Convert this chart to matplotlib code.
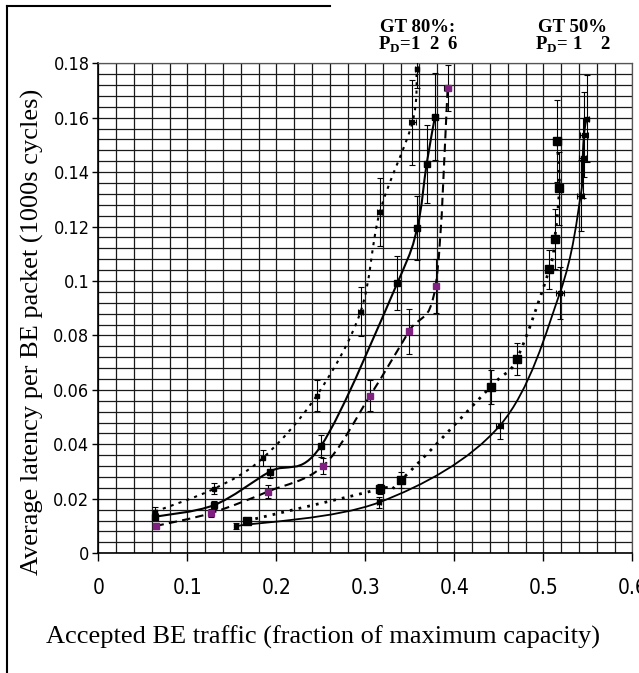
import numpy as np
import matplotlib
matplotlib.use("Agg")
import matplotlib.pyplot as plt
from matplotlib.path import Path
from matplotlib.patches import PathPatch
from matplotlib.lines import Line2D
from matplotlib.ticker import MultipleLocator, FuncFormatter

plt.rcParams['mathtext.fontset'] = 'custom'
plt.rcParams['mathtext.rm'] = 'Liberation Serif'
plt.rcParams['mathtext.bf'] = 'Liberation Serif:bold'

# GT 80%, P_D = 1 (dotted)
gt80_p1_x = [0.0635, 0.130, 0.1845, 0.2452, 0.2946, 0.3160, 0.3528, 0.3575]
gt80_p1_y = [0.0153, 0.0237, 0.0349, 0.0579, 0.0888, 0.1252, 0.1584, 0.1780]
gt80_p1_yerr = [0.0015, 0.0020, 0.0030, 0.0057, 0.0090, 0.0125, 0.0156, 0.0070]
gt80_p1_xerr = [0, 0, 0, 0, 0.003, 0.003, 0.004, 0.002]

# GT 80%, P_D = 2 (solid)
gt80_p2_x = [0.0635, 0.130, 0.1927, 0.2500, 0.3357, 0.3582, 0.3687, 0.3781]
gt80_p2_y = [0.0134, 0.0177, 0.0300, 0.0394, 0.0992, 0.1196, 0.1430, 0.1604]
gt80_p2_yerr = [0.0012, 0.0015, 0.0022, 0.0040, 0.0100, 0.0118, 0.0142, 0.0160]
gt80_p2_xerr = [0, 0, 0, 0, 0.002, 0.002, 0.003, 0.003]

# GT 80%, P_D = 6 (dashed, purple)
gt80_p6_x = [0.0642, 0.1260, 0.1900, 0.2526, 0.3050, 0.3490, 0.3788, 0.3923]
gt80_p6_y = [0.0100, 0.0147, 0.0226, 0.0321, 0.0578, 0.0816, 0.0982, 0.1708]
gt80_p6_yerr = [0.0010, 0.0015, 0.0025, 0.0030, 0.0057, 0.0083, 0.0100, 0.0085]
gt80_p6_xerr = [0, 0, 0, 0, 0, 0.002, 0.002, 0.004]

# GT 50%, P_D = 1 (dotted)
gt50_p1_x = [0.1665, 0.3160, 0.3400, 0.4407, 0.4700, 0.5066, 0.5125, 0.5178, 0.5155]
gt50_p1_y = [0.0119, 0.0236, 0.0269, 0.0612, 0.0714, 0.1043, 0.1153, 0.1340, 0.1514]
gt50_p1_yerr = [0.0010, 0.0020, 0.0028, 0.0062, 0.0060, 0.0072, 0.0110, 0.0135, 0.0150]
gt50_p1_xerr = [0, 0, 0, 0.003, 0.004, 0.003, 0.003, 0.003, 0.004]

# GT 50%, P_D = 2 (solid)
gt50_p2_x = [0.1550, 0.3155, 0.4510, 0.5185, 0.5418, 0.5440, 0.5455, 0.5485]
gt50_p2_y = [0.0100, 0.0187, 0.0469, 0.0957, 0.1314, 0.1453, 0.1538, 0.1597]
gt50_p2_yerr = [0.0010, 0.0020, 0.0048, 0.0095, 0.0130, 0.0147, 0.0155, 0.0160]
gt50_p2_xerr = [0, 0.002, 0.004, 0.004, 0.004, 0.004, 0.004, 0.003]


def smooth_line(ax, x, y, **kw):
    # excel style smoothed line (bezier through the points)
    p = np.column_stack([x, y])
    n = len(p)
    verts = [p[0]]
    codes = [Path.MOVETO]
    for i in range(n - 1):
        prev = p[i - 1] if i > 0 else p[i]
        nxt = p[i + 2] if i + 2 < n else p[i + 1]
        c1 = p[i] + (p[i + 1] - prev) / 6.0
        c2 = p[i + 1] - (nxt - p[i]) / 6.0
        verts += [c1, c2, p[i + 1]]
        codes += [Path.CURVE4] * 3
    ax.add_patch(PathPatch(Path(verts, codes), fill=False, **kw))


fig = plt.figure(figsize=(6.39, 6.73), dpi=100)
ax = fig.add_axes([0.1541, 0.178, 0.8357, 0.728])

ax.set_xlim(0, 0.6)
ax.set_ylim(0, 0.18)
ax.xaxis.set_major_locator(MultipleLocator(0.1))
ax.xaxis.set_minor_locator(MultipleLocator(0.02))
ax.yaxis.set_major_locator(MultipleLocator(0.02))
ax.yaxis.set_minor_locator(MultipleLocator(0.004))
ax.grid(True, which='both', color='#1a1a1a', lw=0.9)
ax.set_axisbelow(True)
fmt = FuncFormatter(lambda v, pos: '%g' % round(v, 3))
ax.xaxis.set_major_formatter(fmt)
ax.yaxis.set_major_formatter(fmt)
ax.tick_params(which='minor', length=0)
ax.tick_params(axis='y', which='major', length=4, width=1, pad=2.5)
ax.tick_params(axis='x', which='major', length=6, width=1, pad=12)
for s in ['top', 'right']:
    ax.spines[s].set_color('#555555')
    ax.spines[s].set_linewidth(0.9)
for s in ['left', 'bottom']:
    ax.spines[s].set_linewidth(1.2)

narrow = ['DejaVu Sans Condensed', 'DejaVu Sans']
for lab in ax.get_yticklabels():
    lab.set_family(narrow)
    lab.set_stretch('condensed')
    lab.set_fontsize(13)
for lab in ax.get_xticklabels():
    lab.set_family(narrow)
    lab.set_stretch('condensed')
    lab.set_fontsize(15)

eb = dict(fmt='none', ecolor='black', elinewidth=0.8, capsize=2, capthick=0.8, zorder=3)

# GT 80%
smooth_line(ax, gt80_p1_x, gt80_p1_y, color='black', lw=1.5, linestyle=(0, (1.5, 2.5)), zorder=4)
ax.errorbar(gt80_p1_x, gt80_p1_y, yerr=gt80_p1_yerr, xerr=gt80_p1_xerr, **eb)
ax.plot(gt80_p1_x, gt80_p1_y, 's', color='black', ms=3.5, ls='none', zorder=5)

smooth_line(ax, gt80_p2_x, gt80_p2_y, color='black', lw=1.5, zorder=4)
ax.errorbar(gt80_p2_x, gt80_p2_y, yerr=gt80_p2_yerr, xerr=gt80_p2_xerr, **eb)
ax.plot(gt80_p2_x, gt80_p2_y, 's', color='black', ms=4, ls='none', zorder=5)

smooth_line(ax, gt80_p6_x, gt80_p6_y, color='black', lw=1.5, linestyle=(0, (4, 2.5)), zorder=4)
ax.errorbar(gt80_p6_x, gt80_p6_y, yerr=gt80_p6_yerr, xerr=gt80_p6_xerr, **eb)
ax.plot(gt80_p6_x, gt80_p6_y, 's', color='#7f1f80', ms=4, ls='none', zorder=5)

# GT 50%
smooth_line(ax, gt50_p1_x, gt50_p1_y, color='black', lw=2, linestyle=(0, (1, 2.2)), zorder=4)
ax.errorbar(gt50_p1_x, gt50_p1_y, yerr=gt50_p1_yerr, xerr=gt50_p1_xerr, **eb)
ax.plot(gt50_p1_x, gt50_p1_y, 's', color='black', ms=5.5, ls='none', zorder=5)

smooth_line(ax, gt50_p2_x, gt50_p2_y, color='black', lw=1.3, zorder=4)
ax.errorbar(gt50_p2_x, gt50_p2_y, yerr=gt50_p2_yerr, xerr=gt50_p2_xerr, **eb)
ax.plot(gt50_p2_x, gt50_p2_y, 's', color='black', ms=3, ls='none', zorder=5)

serif = 'Liberation Serif'
fig.text(32 / 639, 0.507, 'Average latency per BE packet (1000s cycles)', rotation=90,
         ha='center', va='center', family=serif, fontsize=19)
fig.text(0.5047, 1 - 637 / 673, 'Accepted BE traffic (fraction of maximum capacity)',
         ha='center', va='center', family=serif, fontsize=19)

fig.text(380 / 639, 1 - 32 / 673, 'GT 80%:', ha='left', va='baseline', family=serif,
         fontsize=13.5, fontweight='bold')
fig.text(378 / 639, 1 - 50 / 673, r'P$_\mathbf{D}$=1  2  6', ha='left', va='baseline',
         family=serif, fontsize=13.5, fontweight='bold')
fig.text(538 / 639, 1 - 32 / 673, 'GT 50%', ha='left', va='baseline', family=serif,
         fontsize=13.5, fontweight='bold')
fig.text(535 / 639, 1 - 50 / 673, r'P$_\mathbf{D}$= 1    2', ha='left', va='baseline',
         family=serif, fontsize=13.5, fontweight='bold')

# partial frame around the figure
fig.add_artist(Line2D([7 / 639, 7 / 639], [0, 1 - 6 / 673], color='black', lw=1.5))
fig.add_artist(Line2D([7 / 639, 330 / 639], [1 - 6 / 673, 1 - 6 / 673], color='black', lw=1.5))

fig.savefig('out.png', dpi=100)
